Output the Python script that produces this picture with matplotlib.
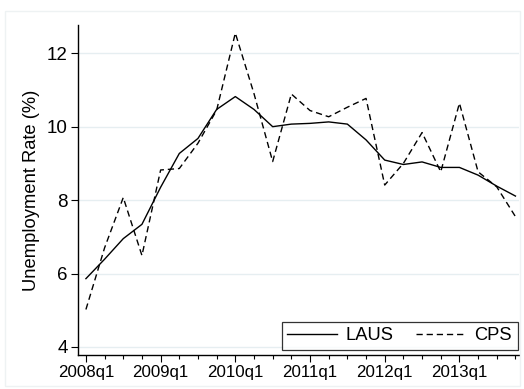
import matplotlib
matplotlib.use("Agg")
import matplotlib.pyplot as plt
from matplotlib.patches import Rectangle
from matplotlib.ticker import FixedLocator, MultipleLocator

plt.rcParams['font.family'] = ['Liberation Sans', 'DejaVu Sans']

# quarterly unemployment rates, 2008q1 - 2013q4
quarters = [f"{y}q{q}" for y in range(2008, 2014) for q in range(1, 5)]
laus = [5.86, 6.39, 6.95, 7.34, 8.35, 9.27, 9.68, 10.47, 10.82, 10.47, 10.00, 10.07,
        10.09, 10.13, 10.07, 9.64, 9.09, 8.97, 9.04, 8.89, 8.89, 8.68, 8.38, 8.11]
cps = [5.02, 6.70, 8.07, 6.49, 8.82, 8.86, 9.55, 10.45, 12.55, 10.90, 9.05, 10.89,
       10.44, 10.27, 10.53, 10.77, 8.41, 9.00, 9.84, 8.77, 10.64, 8.77, 8.36, 7.55]
yticks = [4, 6, 8, 10, 12]

x = list(range(len(quarters)))
dash = (0, (4.5, 2.8))

fig = plt.figure(figsize=(5.24, 3.89), dpi=100)
fig.patch.set_facecolor('white')
# faint outer border around the graph region
fig.add_artist(Rectangle((5 / 524, 1 - 386 / 389), 515 / 524, 375 / 389,
                         transform=fig.transFigure, fill=False,
                         edgecolor='#eef2f3', linewidth=1))

ax = fig.add_axes([77.7 / 524, 1 - 355 / 389, (519 - 77.7) / 524, 330 / 389])

ax.plot(x, laus, color='black', linewidth=1.0, label='LAUS')
ax.plot(x, cps, color='black', linewidth=1.0, linestyle=dash, label='CPS')

ax.set_xlim(-0.44, 23.19)
ax.set_ylim(3.78, 12.77)

ax.xaxis.set_major_locator(FixedLocator(x[::4]))
ax.set_xticklabels(quarters[::4])
ax.xaxis.set_minor_locator(MultipleLocator(1))
ax.set_yticks(yticks)
ax.set_yticklabels([str(v) for v in yticks])

ax.tick_params(axis='both', which='major', length=5, width=0.8, color='black', pad=2)
ax.tick_params(axis='x', which='major', labelsize=12.2)
ax.tick_params(axis='y', which='major', labelsize=13.5)
ax.tick_params(axis='x', which='minor', length=3, width=0.8)

ax.grid(axis='y', color='#e6eef1', linewidth=1)
ax.set_axisbelow(True)

for side in ['top', 'right']:
    ax.spines[side].set_visible(False)
for side in ['left', 'bottom']:
    ax.spines[side].set_linewidth(1.0)

ax.set_ylabel('Unemployment Rate (%)', fontsize=13.2, labelpad=5)

leg = ax.legend(ncol=2, loc='lower right', bbox_to_anchor=(517.7 / 524, 1 - 350 / 389),
                bbox_transform=fig.transFigure, fontsize=13.2, frameon=True,
                fancybox=False, edgecolor='black', handlelength=2.7,
                handletextpad=0.5, columnspacing=1.2, borderpad=0.3,
                borderaxespad=0)
leg.get_frame().set_linewidth(0.9)

fig.savefig('out.png', dpi=100, facecolor='white')
